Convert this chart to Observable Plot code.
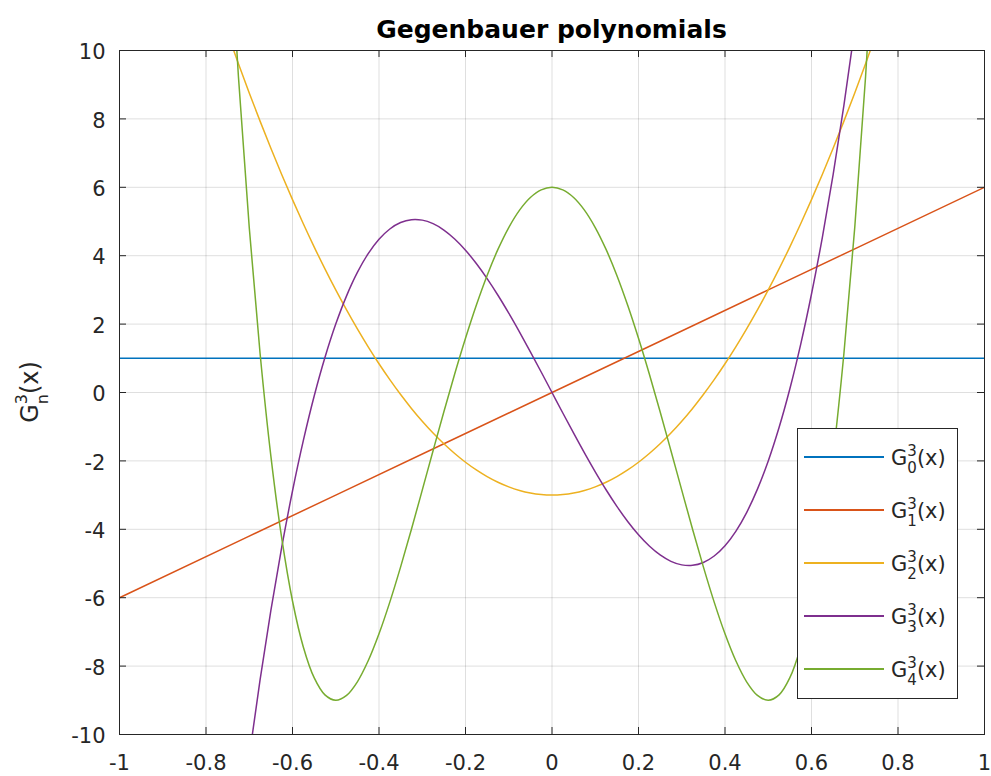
<!DOCTYPE html>
<html>
<head>
<meta charset="utf-8">
<script src="https://cdn.jsdelivr.net/npm/d3@7"></script>
<script src="https://cdn.jsdelivr.net/npm/@observablehq/plot@0.6"></script>
<style>
  body { margin: 0; background: #fff; }
  #chart { position: relative; width: 991px; height: 776px; }
</style>
</head>
<body>
<div id="chart"></div>
<script>
// ---- data ----
const titleText = "Gegenbauer polynomials";
const xTicks = [-1, -0.8, -0.6, -0.4, -0.2, 0, 0.2, 0.4, 0.6, 0.8, 1];
const yTicks = [-10, -8, -6, -4, -2, 0, 2, 4, 6, 8, 10];
const seriesNames = ["G0", "G1", "G2", "G3", "G4"];
const seriesIndex = ["0", "1", "2", "3", "4"];
const seriesColors = ["#0072BD", "#D95319", "#EDB120", "#7E2F8E", "#77AC30"];

const xsLinear = [-1, -0.5, 0, 0.5, 1];
const g0 = [1, 1, 1, 1, 1];
const g1 = [-6, -3, 0, 3, 6];

const xsPoly = [-0.8,-0.775,-0.75,-0.725,-0.7,-0.675,-0.65,-0.625,-0.6,-0.575,-0.55,-0.525,-0.5,-0.475,-0.45,-0.425,-0.4,-0.375,-0.35,-0.325,-0.3,-0.275,-0.25,-0.225,-0.2,-0.175,-0.15,-0.125,-0.1,-0.075,-0.05,-0.025,0,0.025,0.05,0.075,0.1,0.125,0.15,0.175,0.2,0.225,0.25,0.275,0.3,0.325,0.35,0.375,0.4,0.425,0.45,0.475,0.5,0.525,0.55,0.575,0.6,0.625,0.65,0.675,0.7,0.725,0.75,0.775,0.8];
const g2 = [12.36,11.415,10.5,9.615,8.76,7.935,7.14,6.375,5.64,4.935,4.26,3.615,3,2.415,1.86,1.335,0.84,0.375,-0.06,-0.465,-0.84,-1.185,-1.5,-1.785,-2.04,-2.265,-2.46,-2.625,-2.76,-2.865,-2.94,-2.985,-3,-2.985,-2.94,-2.865,-2.76,-2.625,-2.46,-2.265,-2.04,-1.785,-1.5,-1.185,-0.84,-0.465,-0.06,0.375,0.84,1.335,1.86,2.415,3,3.615,4.26,4.935,5.64,6.375,7.14,7.935,8.76,9.615,10.5,11.415,12.36];
const g3 = [-21.76,-18.639,-15.75,-13.086,-10.64,-8.404,-6.37,-4.531,-2.88,-1.409,-0.11,1.024,2,2.826,3.51,4.059,4.48,4.781,4.97,5.054,5.04,4.936,4.75,4.489,4.16,3.771,3.33,2.844,2.32,1.766,1.19,0.599,0,-0.599,-1.19,-1.766,-2.32,-2.844,-3.33,-3.771,-4.16,-4.489,-4.75,-4.936,-5.04,-5.054,-4.97,-4.781,-4.48,-4.059,-3.51,-2.826,-2,-1.024,0.11,1.409,2.88,4.531,6.37,8.404,10.64,13.086,15.75,18.639,21.76];
const g4 = [27.504,20.505,14.438,9.233,4.824,1.148,-1.859,-4.254,-6.096,-7.44,-8.339,-8.842,-9,-8.857,-8.459,-7.845,-7.056,-6.129,-5.099,-3.997,-2.856,-1.702,-0.563,0.54,1.584,2.55,3.422,4.184,4.824,5.333,5.702,5.925,6,5.925,5.702,5.333,4.824,4.184,3.422,2.55,1.584,0.54,-0.563,-1.702,-2.856,-3.997,-5.099,-6.129,-7.056,-7.845,-8.459,-8.857,-9,-8.842,-8.339,-7.44,-6.096,-4.254,-1.859,1.148,4.824,9.233,14.438,20.505,27.504];

// ---- build table ----
const rows = [];
function addSeries(name, xs, ys) { xs.forEach((x, i) => rows.push({ series: name, x, y: ys[i] })); }
addSeries("G0", xsLinear, g0);
addSeries("G1", xsLinear, g1);
addSeries("G2", xsPoly, g2);
addSeries("G3", xsPoly, g3);
addSeries("G4", xsPoly, g4);

// ---- layout ----
const W = 991, H = 776, mL = 119, mR = 7, mT = 50, mB = 42;
const plotW = W - mL - mR, plotH = H - mT - mB;
const tickLen = 7;
const ink = "#262626";

const chart = Plot.plot({
  width: W, height: H,
  marginLeft: mL, marginRight: mR, marginTop: mT, marginBottom: mB,
  style: { fontFamily: "DejaVu Sans", fontSize: "21px", color: ink, background: "#fff" },
  x: { domain: [-1, 1] },
  y: { domain: [-10, 10] },
  color: { domain: seriesNames, range: seriesColors },
  marks: [
    Plot.gridX(xTicks, { stroke: ink, strokeOpacity: 0.15 }),
    Plot.gridY(yTicks, { stroke: ink, strokeOpacity: 0.15 }),
    Plot.line(rows, { x: "x", y: "y", z: "series", stroke: "series", strokeWidth: 1.5, curve: "catmull-rom", clip: true }),
    Plot.frame({ stroke: ink, strokeWidth: 1 }),
    Plot.tickX(xTicks, { stroke: ink, insetTop: plotH - tickLen }),
    Plot.tickX(xTicks, { stroke: ink, insetBottom: plotH - tickLen }),
    Plot.tickY(yTicks, { stroke: ink, insetRight: plotW - tickLen }),
    Plot.tickY(yTicks, { stroke: ink, insetLeft: plotW - tickLen }),
    Plot.axisX(xTicks, { tickSize: 0, tickPadding: 21, tickFormat: d => String(d), label: null, fontSize: 21, fill: ink }),
    Plot.axisY(yTicks, { tickSize: 0, tickPadding: 14, tickFormat: d => String(d), label: null, fontSize: 21, fill: ink, dy: 2 })
  ]
});
document.getElementById("chart").appendChild(chart);

const svg = d3.select(chart);

// title
svg.append("text")
  .attr("x", mL + plotW / 2).attr("y", 38)
  .attr("text-anchor", "middle")
  .attr("font-family", "DejaVu Sans").attr("font-weight", "bold").attr("font-size", 25)
  .attr("fill", "#000")
  .text(titleText);

// y label  G_n^3(x)
const yl = svg.append("text")
  .attr("transform", `translate(38, ${mT + plotH / 2}) rotate(-90)`)
  .attr("text-anchor", "middle")
  .attr("font-family", "DejaVu Sans").attr("font-size", 24).attr("fill", ink);
yl.append("tspan").text("G");
yl.append("tspan").attr("font-size", 16).attr("dy", -11).text("3");
yl.append("tspan").attr("font-size", 16).attr("dx", -10.2).attr("dy", 21).text("n");
yl.append("tspan").attr("dy", -10).text("(x)");

// legend
const lg = svg.append("g").attr("font-family", "DejaVu Sans").attr("fill", ink).attr("text-anchor", "start");
lg.append("rect").attr("x", 797.5).attr("y", 428.5).attr("width", 160).attr("height", 270)
  .attr("fill", "#fff").attr("stroke", ink).attr("stroke-width", 1);
seriesNames.forEach((name, i) => {
  const y = 457 + 53 * i;
  lg.append("line").attr("x1", 804).attr("x2", 884).attr("y1", y).attr("y2", y)
    .attr("stroke", seriesColors[i]).attr("stroke-width", 2);
  const t = lg.append("text").attr("x", 891).attr("y", y + 8).attr("font-size", 21).attr("text-anchor", "start");
  t.append("tspan").text("G");
  t.append("tspan").attr("font-size", 15).attr("dy", -9).text("3");
  t.append("tspan").attr("font-size", 15).attr("dx", -9.5).attr("dy", 17).text(seriesIndex[i]);
  t.append("tspan").attr("dy", -8).text("(x)");
});
</script>
</body>
</html>
